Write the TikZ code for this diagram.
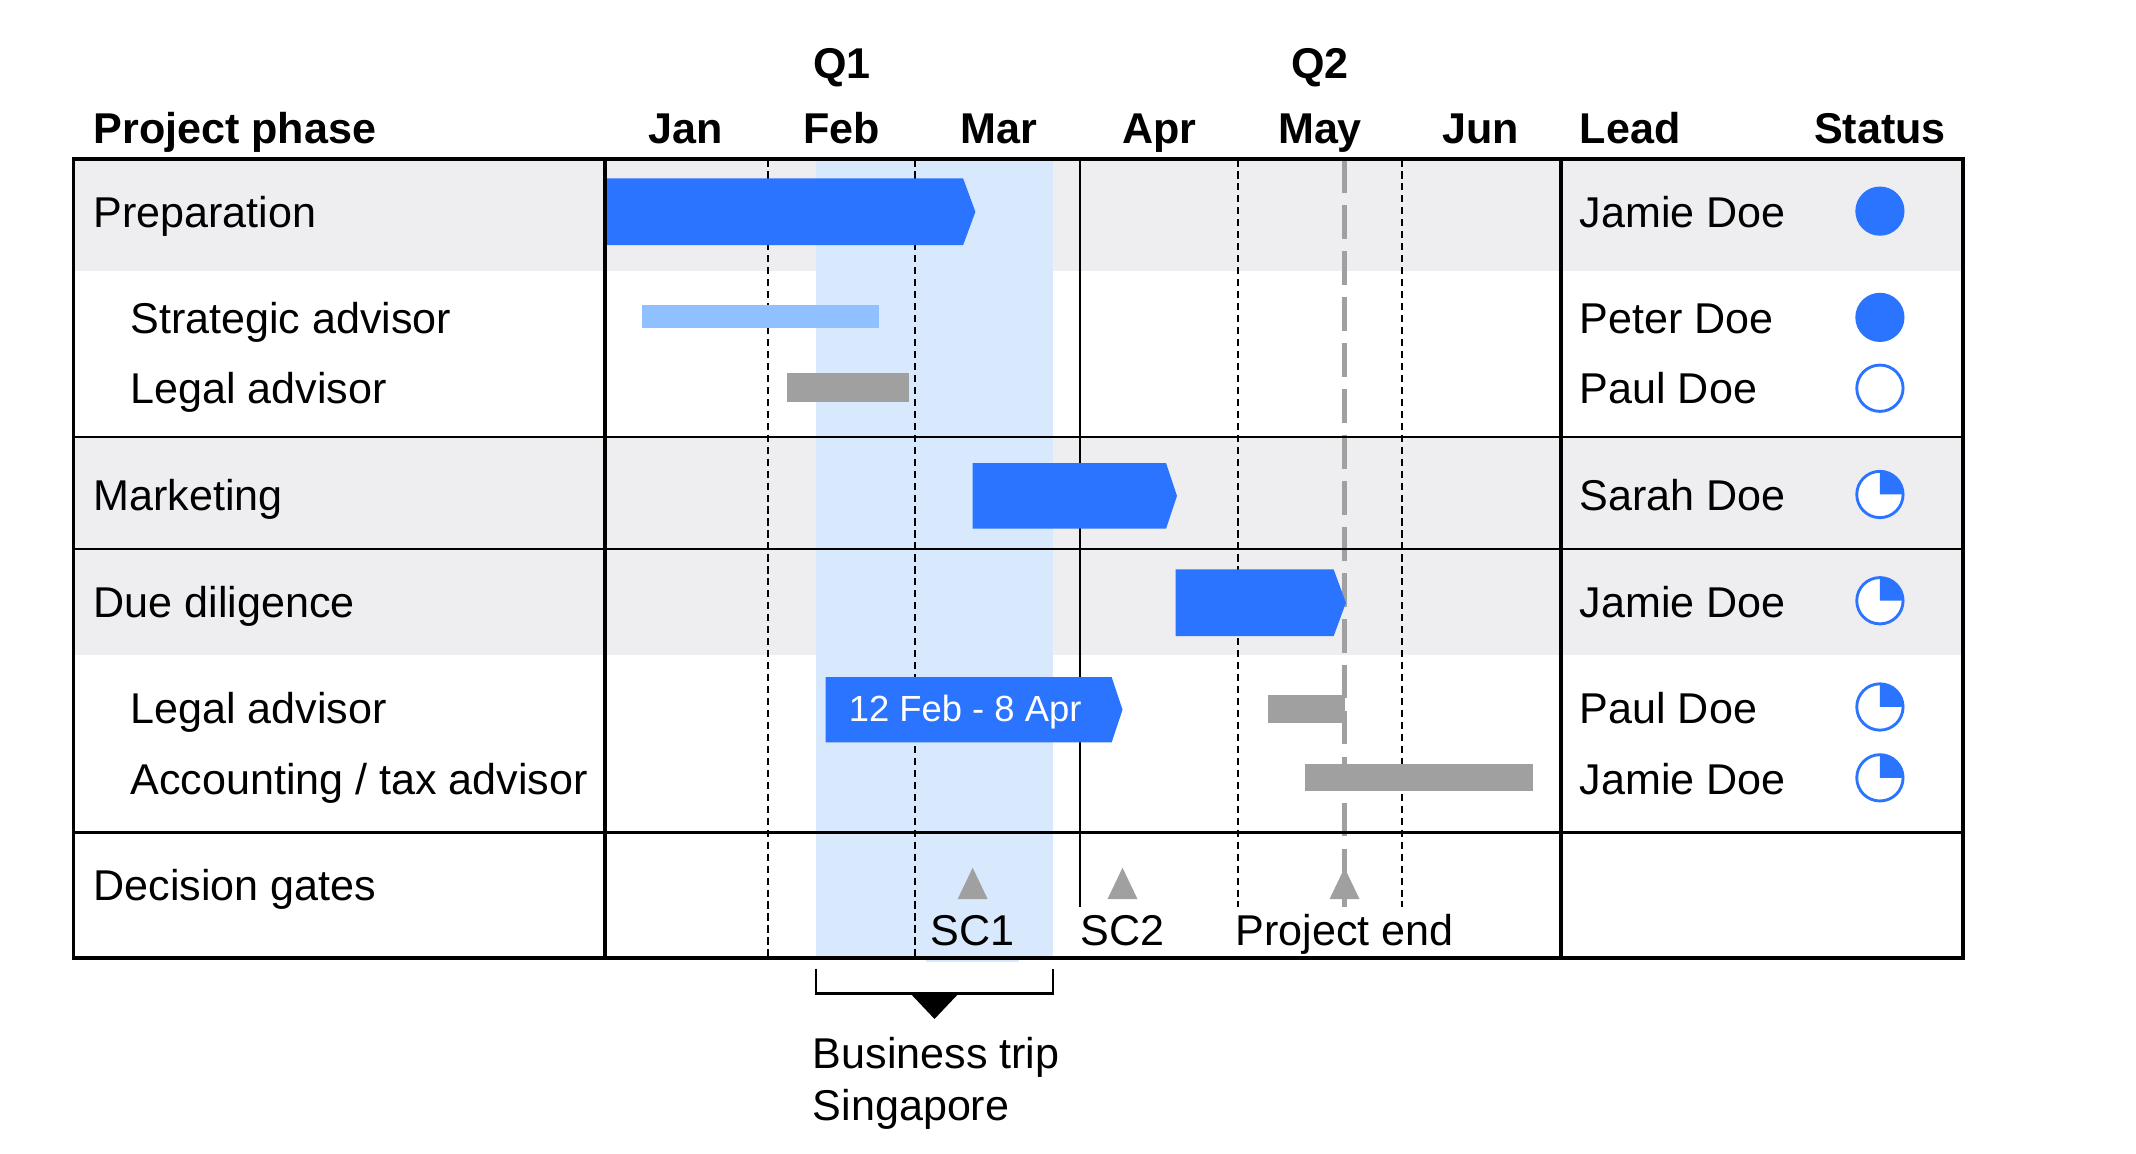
\documentclass[tikz,border=0pt]{standalone}
\usepackage{fontspec}
\setmainfont{Liberation Sans}
\usepackage{tikz}

\definecolor{barblue}{RGB}{42,116,255}
\definecolor{lightbar}{RGB}{143,192,255}
\definecolor{bargray}{RGB}{160,160,160}
\definecolor{rowgray}{RGB}{238,238,241}
\definecolor{tripblue}{RGB}{216,232,253}

\begin{document}
\begin{tikzpicture}[font=\fontsize{9}{10.8}\selectfont,
	head/.style={font=\fontsize{9}{10.8}\selectfont\bfseries,anchor=base},
	rowtext/.style={anchor=base west,inner sep=0pt},
	stat/.style={shape=circle,minimum size=0.34cm,inner sep=0pt,draw=barblue,line width=0.6pt},
	gatelabel/.style={anchor=base,fill=white,inner sep=1pt,text height=7pt,text depth=2.5pt},
	monthline/.style={line width=0.4pt,dash pattern=on 1.5pt off 1pt},
	endline/.style={bargray,line width=1pt,dash pattern=on 7pt off 2.6pt}]
	\useasboundingbox (0,0) rectangle (15.68,-8.47);
	
	\fill [rowgray] (0.54,-1.17) rectangle (14.41,-1.99);
	\fill [rowgray] (0.54,-3.21) rectangle (14.41,-4.81);
	\fill [tripblue] (5.99,-1.17) rectangle (7.73,-7.03);
	
	\draw [monthline] (5.64,-1.17) -- (5.64,-7.03);
	\draw [monthline] (6.72,-1.17) -- (6.72,-7.03);
	\draw [line width=0.4pt] (7.93,-1.17) -- (7.93,-7.03);
	\draw [monthline] (9.09,-1.17) -- (9.09,-7.03);
	\draw [monthline] (10.29,-1.17) -- (10.29,-7.03);
	\draw [endline] (9.87,-1.17) -- (9.87,-7.03);
	
	\fill [barblue] (4.44,-1.31) -- (7.07,-1.31) -- (7.16,-1.555) -- (7.07,-1.80) -- (4.44,-1.80) -- cycle;
	\fill [lightbar] (4.71,-2.24) rectangle (6.45,-2.41);
	\fill [bargray] (5.78,-2.74) rectangle (6.67,-2.95);
	\fill [barblue] (7.14,-3.40) -- (8.56,-3.40) -- (8.64,-3.64) -- (8.56,-3.88) -- (7.14,-3.88) -- cycle;
	\fill [barblue] (8.63,-4.18) -- (9.79,-4.18) -- (9.88,-4.425) -- (9.79,-4.67) -- (8.63,-4.67) -- cycle;
	\fill [barblue] (6.06,-4.97) -- (8.16,-4.97) -- (8.24,-5.21) -- (8.16,-5.45) -- (6.06,-5.45) -- cycle;
	\node [anchor=base,text=white,font=\fontsize{7.6}{9}\selectfont] (span) at (7.085,-5.30) {12 Feb - 8 Apr};
	\fill [bargray] (9.31,-5.10) rectangle (9.87,-5.31);
	\fill [bargray] (9.58,-5.61) rectangle (11.25,-5.81);
	
	\fill [bargray] (7.03,-6.60) -- (7.14,-6.37) -- (7.25,-6.60) -- cycle;
	\fill [bargray] (8.13,-6.60) -- (8.24,-6.37) -- (8.35,-6.60) -- cycle;
	\fill [bargray] (9.76,-6.60) -- (9.87,-6.37) -- (9.98,-6.60) -- cycle;
	\node [gatelabel,fill=tripblue] (sc1) at (7.14,-6.94) {SC1};
	\node [gatelabel] (sc2) at (8.24,-6.94) {SC2};
	\node [gatelabel] (pend) at (9.87,-6.94) {Project end};
	
	\draw [line width=0.5pt] (0.54,-3.21) -- (14.41,-3.21);
	\draw [line width=0.5pt] (0.54,-4.03) -- (14.41,-4.03);
	\draw [line width=0.5pt] (0.54,-6.11) -- (14.41,-6.11);
	\draw [line width=0.8pt] (4.44,-1.17) -- (4.44,-7.03);
	\draw [line width=0.8pt] (11.46,-1.17) -- (11.46,-7.03);
	\draw [line width=0.8pt] (0.54,-1.17) rectangle (14.41,-7.03);
	
	\node [head] (q1) at (6.18,-0.58) {Q1};
	\node [head] (q2) at (9.69,-0.58) {Q2};
	\node [head,anchor=base west,inner sep=0pt] (hphase) at (0.68,-1.05) {Project phase};
	\node [head] (jan) at (5.03,-1.05) {Jan};
	\node [head] (feb) at (6.18,-1.05) {Feb};
	\node [head] (mar) at (7.33,-1.05) {Mar};
	\node [head] (apr) at (8.51,-1.05) {Apr};
	\node [head] (may) at (9.69,-1.05) {May};
	\node [head] (jun) at (10.87,-1.05) {Jun};
	\node [head,anchor=base west,inner sep=0pt] (hlead) at (11.59,-1.05) {Lead};
	\node [head] (hstatus) at (13.80,-1.05) {Status};
	
	\node [rowtext] (prep) at (0.68,-1.67) {Preparation};
	\node [rowtext] (strat) at (0.95,-2.45) {Strategic advisor};
	\node [rowtext] (legalA) at (0.95,-2.96) {Legal advisor};
	\node [rowtext] (mkt) at (0.68,-3.75) {Marketing};
	\node [rowtext] (dd) at (0.68,-4.53) {Due diligence};
	\node [rowtext] (legalB) at (0.95,-5.31) {Legal advisor};
	\node [rowtext] (acct) at (0.95,-5.83) {Accounting / tax advisor};
	\node [rowtext] (gates) at (0.68,-6.61) {Decision gates};
	
	\node [rowtext] (lead1) at (11.59,-1.67) {Jamie Doe};
	\node [rowtext] (lead2) at (11.59,-2.45) {Peter Doe};
	\node [rowtext] (lead3) at (11.59,-2.96) {Paul Doe};
	\node [rowtext] (lead4) at (11.59,-3.75) {Sarah Doe};
	\node [rowtext] (lead5) at (11.59,-4.53) {Jamie Doe};
	\node [rowtext] (lead6) at (11.59,-5.31) {Paul Doe};
	\node [rowtext] (lead7) at (11.59,-5.83) {Jamie Doe};
	
	\node [stat,fill=barblue] (st1) at (13.80,-1.55) {};
	\node [stat,fill=barblue] (st2) at (13.80,-2.33) {};
	\node [stat,fill=white] (st3) at (13.80,-2.85) {};
	\node [stat,fill=white] (st4) at (13.80,-3.63) {};
	\node [stat,fill=white] (st5) at (13.80,-4.41) {};
	\node [stat,fill=white] (st6) at (13.80,-5.19) {};
	\node [stat,fill=white] (st7) at (13.80,-5.71) {};
	\fill [barblue] (st4.center) -- ++(0,0.17) arc [start angle=90,end angle=0,radius=0.17] -- cycle;
	\fill [barblue] (st5.center) -- ++(0,0.17) arc [start angle=90,end angle=0,radius=0.17] -- cycle;
	\fill [barblue] (st6.center) -- ++(0,0.17) arc [start angle=90,end angle=0,radius=0.17] -- cycle;
	\fill [barblue] (st7.center) -- ++(0,0.17) arc [start angle=90,end angle=0,radius=0.17] -- cycle;
	
	\coordinate (tripL) at (5.99,-7.11);
	\coordinate (tripR) at (7.73,-7.11);
	\draw [line width=0.6pt] (tripL) -- ++(0,-0.18) -| (tripR);
	\fill (6.68,-7.29) -- (7.04,-7.29) -- (6.86,-7.48) -- cycle;
	\node [anchor=north west,inner sep=0pt,align=left] (trip) at (5.96,-7.61) {Business trip\\Singapore};
\end{tikzpicture}
\end{document}
